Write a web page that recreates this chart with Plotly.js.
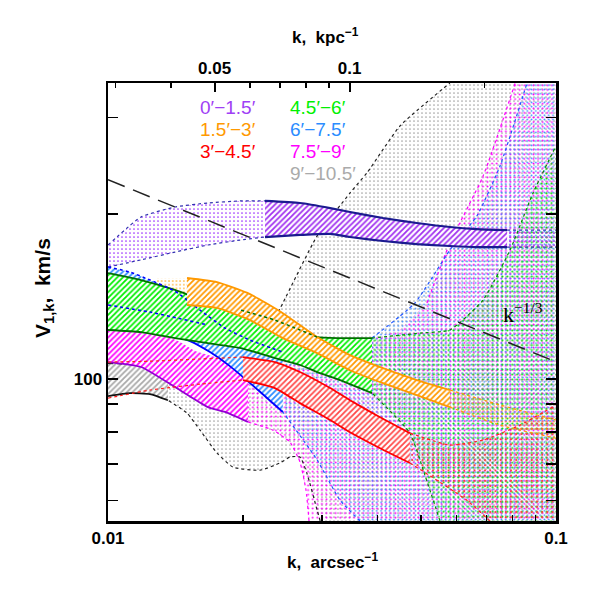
<!DOCTYPE html>
<html><head><meta charset="utf-8">
<script src="https://cdn.plot.ly/plotly-3.0.1.min.js"></script>
<style>html,body{margin:0;padding:0;background:#fff}</style>
</head><body>
<div id="chart" style="width:598px;height:596px"></div>
<script>
// ---------------- data (k in arcsec^-1, V in km/s) ----------------
// 0'-1.5' (purple)
const kPurpleL = [0.01, 0.01185, 0.01411, 0.01671, 0.01971, 0.02241];
const vPurpleLUp = [175.6, 197.5, 206.0, 209.5, 211.3, 211.3];
const vPurpleLLo = [160.1, 165.0, 170.5, 175.6, 179.3, 181.6];
const kPurpleH = [0.02241, 0.02682, 0.03132, 0.03469, 0.04110, 0.04889, 0.05796, 0.06658, 0.07776];
const vPurpleHUp = [211.3, 209.5, 205.1, 201.7, 196.7, 192.6, 189.4, 187.8, 187.0];
const vPurpleHLo = [181.6, 183.2, 184.0, 181.6, 178.6, 176.3, 174.9, 174.1, 174.1];
const kPurpleR = [0.07776, 0.1];
const vPurpleRUp = [187.0, 187.0];
const vPurpleRLo = [174.1, 174.1];

// 1.5'-3' (orange)
const kOrangeL = [0.01287, 0.01501];
const vOrangeLUp = [152.9, 152.9];
const vOrangeLLo = [139.4, 136.5];
const kOrangeH = [0.01501, 0.01751, 0.02075, 0.02456, 0.02929, 0.03469, 0.04110, 0.04889, 0.05796];
const vOrangeHUp = [152.9, 150.3, 142.9, 131.9, 119.3, 110.6, 104.7, 99.6, 95.5];
const vOrangeHLo = [136.5, 134.8, 128.1, 118.8, 111.5, 103.8, 98.3, 93.5, 88.9];
const kOrangeR = [0.05796, 0.07499, 0.1];
const vOrangeRUp = [95.5, 89.7, 84.2];
const vOrangeRLo = [88.9, 82.4, 78.0];

// 3'-4.5' (red)
const kRedL = [0.01, 0.01241, 0.01605, 0.02001];
const vRedLUp = [107.4, 107.8, 108.8, 109.7];
const vRedLLo = [92.3, 95.5, 97.9, 99.6];
const kRedH = [0.02001, 0.02358, 0.02682, 0.03132, 0.03469, 0.04049, 0.04719];
const vRedHUp = [109.7, 107.4, 103.0, 96.3, 91.5, 85.2, 79.7];
const vRedHLo = [99.6, 96.3, 90.4, 84.2, 80.0, 74.8, 70.3];
const kRedRPoly = [0.04719, 0.05796, 0.06874, 0.08311, 0.1, 0.1, 0.07116, 0.06329, 0.04719];
const vRedRPoly = [79.7, 75.8, 77.4, 82.4, 89.7, 55.1, 55.1, 60.1, 70.3];

// 4.5'-6' (green)
const kGreenH = [0.01, 0.01185, 0.01411, 0.01671, 0.01981, 0.02358, 0.02682, 0.02929, 0.03296, 0.03884];
const vGreenHUp = [156.1, 151.6, 145.4, 138.2, 133.6, 128.1, 122.9, 119.3, 118.8, 118.8];
const vGreenHLo = [122.9, 121.8, 118.8, 116.3, 113.9, 109.2, 106.1, 103.0, 99.6, 94.3];
const kGreenRPoly = [0.03884, 0.04971, 0.05796, 0.06874, 0.07897, 0.08887, 0.1, 0.1, 0.05509, 0.05098, 0.04719, 0.03884];
const vGreenRPoly = [118.8, 121.3, 122.9, 139.4, 172.0, 218.5, 266.2, 55.1, 55.1, 66.8, 79.7, 94.3];

// 6'-7.5' (blue)
const kBlueHUp = [0.01, 0.01119, 0.01241, 0.01411, 0.01605, 0.01824, 0.02075, 0.02456];
const vBlueHUp = [160.1, 156.8, 151.6, 144.7, 133.6, 123.9, 117.8, 112.0];
const kBlueHLo = [0.01, 0.01185, 0.01375, 0.01524, 0.01689, 0.01871, 0.02162, 0.02456];
const vBlueHLo = [124.9, 123.4, 120.3, 117.3, 112.0, 105.6, 95.5, 87.1];
const kBlueInner = [0.01, 0.01241, 0.01671];
const vBlueInner = [136.5, 132.5, 125.5];
const kBlueRPoly = [0.02456, 0.03132, 0.03884, 0.04839, 0.05796, 0.06658, 0.07499, 0.08616, 0.1, 0.1, 0.0365, 0.03296, 0.02929, 0.02456];
const vBlueRPoly = [112.0, 115.3, 118.8, 137.6, 172.0, 198.4, 244.8, 346.8, 346.8, 55.1, 55.1, 60.1, 71.2, 87.1];

// 7.5'-9' (magenta)
const kMagHUp = [0.01, 0.01185, 0.01340, 0.01448, 0.01563, 0.01824, 0.02053];
const vMagHUp = [122.9, 122.4, 120.3, 116.8, 112.5, 108.3, 107.4];
const kMagHLo = [0.01, 0.01185, 0.01411, 0.01671, 0.01824, 0.02053];
const vMagHLo = [107.4, 105.2, 96.7, 88.9, 87.1, 83.5];
const kMagRPoly = [0.02053, 0.02682, 0.03469, 0.04485, 0.0515, 0.05796, 0.06874, 0.0811, 0.1, 0.1, 0.02810, 0.02767, 0.02682, 0.02549, 0.02334, 0.02053];
const vMagRPoly = [107.4, 112.0, 115.3, 122.9, 137.6, 177.1, 234.6, 346.8, 346.8, 55.1, 55.1, 62.7, 70.6, 76.7, 80.7, 83.5];

// 9'-10.5' (gray)
const kGrayH = [0.01, 0.01119, 0.01241, 0.01361];
const vGrayHUp = [106.9, 106.5, 106.1, 105.2];
const vGrayHLo = [93.1, 94.3, 93.9, 91.5];
const kGrayRPoly = [0.01361, 0.01605, 0.01871, 0.02129, 0.02298, 0.02456, 0.02929, 0.03469, 0.03784, 0.04485, 0.05796, 0.1, 0.1,
                    0.02976, 0.02929, 0.02780, 0.02682, 0.02549, 0.02420, 0.02184, 0.01901, 0.01751, 0.01605, 0.01501, 0.01361];
const vGrayRPoly = [105.2, 101.7, 103.8, 112.9, 123.9, 137.6, 182.4, 218.5, 237.7, 289.5, 346.8, 346.8, 55.1,
                    55.1, 57.7, 67.3, 72.1, 72.1, 70.3, 68.2, 69.1, 73.3, 80.7, 86.7, 91.5];

// k^-1/3 reference line
const kSlope = [0.01, 0.1];
const vSlope = [231, 107.5];

// labels
const legendLabels = ["0′−1.5′", "1.5′−3′", "3′−4.5′", "4.5′−6′", "6′−7.5′", "7.5′−9′", "9′−10.5′"];
const legendColors = ["#a040f5", "#ff9900", "#ff0000", "#00f000", "#2b8cff", "#ff00ff", "#aaaaaa"];
const xTickVals = [0.01, 0.1];
const xMinorVals = [0.02, 0.03, 0.04, 0.05, 0.06, 0.07, 0.08, 0.09];
const yTickVals = [100];
const yMinorVals = [60, 70, 80, 90, 200, 300];
const topTickVals = [0.05, 0.1];
const topMinorVals = [0.03, 0.04, 0.06, 0.07, 0.08, 0.09, 0.2];
const kpcPerArcsec = 2.89;

// ---------------- helpers ----------------
function band(kUp, vUp, kLo, vLo) {
  return {x: kUp.concat(kLo.slice().reverse()), y: vUp.concat(vLo.slice().reverse())};
}
function dotFill(p, color, size) {
  return {type: 'scatter', x: p.x, y: p.y, mode: 'lines', fill: 'toself',
    line: {width: 0, color: color}, fillcolor: 'rgba(0,0,0,0)',
    fillpattern: {shape: '.', fgcolor: color, bgcolor: 'rgba(0,0,0,0)', size: size, solidity: 0.14},
    hoverinfo: 'skip', showlegend: false};
}
function hatchFill(p, color) {
  return {type: 'scatter', x: p.x, y: p.y, mode: 'lines', fill: 'toself',
    line: {width: 0, color: color}, fillcolor: 'rgba(0,0,0,0)',
    fillpattern: {shape: '/', fgcolor: color, bgcolor: 'white', size: 4, solidity: 0.45},
    hoverinfo: 'skip', showlegend: false};
}
function ln(x, y, color, width, dash) {
  return {type: 'scatter', x: x, y: y, mode: 'lines',
    line: {color: color, width: width, dash: dash || 'solid', shape: 'spline', smoothing: 0.5},
    hoverinfo: 'skip', showlegend: false};
}

const traces = [];
// dotted extensions (different pattern periods so the dots of overlapping regions interleave)
traces.push(dotFill({x: kGrayRPoly, y: vGrayRPoly}, '#a4a4a4', 4.0));
traces.push(dotFill({x: kMagRPoly, y: vMagRPoly}, '#ff00ff', 4.6));
traces.push(dotFill({x: kBlueRPoly, y: vBlueRPoly}, '#3a8cff', 4.3));
traces.push(dotFill({x: kGreenRPoly, y: vGreenRPoly}, '#00e000', 4.9));
traces.push(dotFill({x: kRedRPoly, y: vRedRPoly}, '#ff4040', 5.2));
traces.push(dotFill(band(kRedL, vRedLUp, kRedL, vRedLLo), '#ff4040', 5.2));
traces.push(dotFill(band(kOrangeR, vOrangeRUp, kOrangeR, vOrangeRLo), '#ffa000', 3.7));
traces.push(dotFill(band(kOrangeL, vOrangeLUp, kOrangeL, vOrangeLLo), '#ffa000', 3.7));
traces.push(dotFill(band(kPurpleL, vPurpleLUp, kPurpleL, vPurpleLLo), '#9b30ff', 4.0));
traces.push(dotFill(band(kPurpleR, vPurpleRUp, kPurpleR, vPurpleRLo), '#9b30ff', 4.0));

// dotted outlines of extensions
traces.push(ln(kGrayRPoly.slice(4, 11), vGrayRPoly.slice(4, 11), '#222', 1.2, 'dot'));
traces.push(ln(kGrayRPoly.slice(13), vGrayRPoly.slice(13), '#222', 1.2, 'dot'));
traces.push(ln(kMagRPoly.slice(4, 8), vMagRPoly.slice(4, 8), '#ff00ff', 1.2, 'dot'));
traces.push(ln(kMagRPoly.slice(10), vMagRPoly.slice(10), '#ff00ff', 1.2, 'dot'));
traces.push(ln(kBlueRPoly.slice(2, 8), vBlueRPoly.slice(2, 8), '#2255ff', 1.2, 'dot'));
traces.push(ln(kBlueRPoly.slice(10), vBlueRPoly.slice(10), '#2255ff', 1.2, 'dot'));
traces.push(ln(kGreenRPoly.slice(0, 7), vGreenRPoly.slice(0, 7), '#009000', 1.2, 'dot'));
traces.push(ln(kGreenRPoly.slice(8), vGreenRPoly.slice(8), '#009000', 1.2, 'dot'));
traces.push(ln(kRedRPoly.slice(0, 5), vRedRPoly.slice(0, 5), '#ff2020', 1.2, 'dot'));
traces.push(ln(kRedRPoly.slice(6), vRedRPoly.slice(6), '#ff2020', 1.2, 'dot'));
traces.push(ln(kOrangeR, vOrangeRUp, '#ff9900', 1.2, 'dot'));
traces.push(ln(kOrangeR, vOrangeRLo, '#ff9900', 1.2, 'dot'));
traces.push(ln(kPurpleL, vPurpleLUp, '#3030b0', 1.2, 'dot'));
traces.push(ln(kPurpleL, vPurpleLLo, '#3030b0', 1.2, 'dot'));
traces.push(ln(kPurpleR, vPurpleRUp, '#3030b0', 1.2, 'dot'));
traces.push(ln(kPurpleR, vPurpleRLo, '#3030b0', 1.2, 'dot'));

// hatched measured ranges
traces.push(hatchFill(band(kGrayH, vGrayHUp, kGrayH, vGrayHLo), '#a8a8a8'));
traces.push(ln(kGrayH, vGrayHUp, '#222', 1.5, '5px,4px'));
traces.push(ln(kGrayH, vGrayHLo, '#111', 1.8));
traces.push(hatchFill(band(kMagHUp, vMagHUp, kMagHLo, vMagHLo), '#ff00ff'));
traces.push(ln(kMagHLo, vMagHLo, '#9400d3', 1.8));
traces.push(hatchFill(band(kBlueHUp, vBlueHUp, kBlueHLo, vBlueHLo), '#2b8cff'));
traces.push(ln(kBlueHLo, vBlueHLo, '#0000ff', 1.8));
traces.push(hatchFill(band(kGreenH, vGreenHUp, kGreenH, vGreenHLo), '#00ee00'));
traces.push(ln(kGreenH, vGreenHUp, '#007000', 1.8));
traces.push(ln(kGreenH, vGreenHLo, '#007000', 1.8));
traces.push(ln(kBlueHUp, vBlueHUp, '#0000ff', 1.5, 'dot'));
traces.push(ln(kBlueInner, vBlueInner, '#0000ff', 1.5, 'dot'));
traces.push(ln(kRedL, vRedLUp, '#ff2020', 1.2, 'dot'));
traces.push(ln(kRedL, vRedLLo, '#ff2020', 1.2, 'dot'));
traces.push(hatchFill(band(kRedH, vRedHUp, kRedH, vRedHLo), '#ff4848'));
traces.push(ln(kRedH, vRedHUp, '#ff0000', 1.8));
traces.push(ln(kRedH, vRedHLo, '#ff0000', 1.8));
traces.push(hatchFill(band(kOrangeH, vOrangeHUp, kOrangeH, vOrangeHLo), '#ff9900'));
traces.push(ln(kOrangeH, vOrangeHUp, '#ff9900', 1.8));
traces.push(ln(kOrangeH, vOrangeHLo, '#ff9900', 1.8));
traces.push(ln(kGreenH.slice(4, 8), vGreenHUp.slice(4, 8), '#007000', 1.5, 'dot'));
traces.push(hatchFill(band(kPurpleH, vPurpleHUp, kPurpleH, vPurpleHLo), '#a030f0'));
traces.push(ln(kPurpleH, vPurpleHUp, '#1b1b8f', 2.2));
traces.push(ln(kPurpleH, vPurpleHLo, '#1b1b8f', 2.2));

// k^-1/3 line
traces.push({type: 'scatter', x: kSlope, y: vSlope, mode: 'lines',
  line: {color: '#222', width: 1.5, dash: '18px,9px'}, hoverinfo: 'skip', showlegend: false});
// invisible trace for the top (kpc) axis
traces.push({type: 'scatter', x: topTickVals, y: [100, 100], xaxis: 'x2', mode: 'markers',
  marker: {opacity: 0}, hoverinfo: 'skip', showlegend: false});

const tickFont = {family: 'Liberation Sans, Arial, sans-serif', size: 17, color: '#000', weight: 'bold'};
const annotations = [];
const colX = [198, 288];
const rowY = [107, 129, 151, 173];
legendLabels.forEach((t, i) => {
  const col = i < 3 ? 0 : 1;
  const row = i < 3 ? i : i - 3;
  annotations.push({text: t, xref: 'paper', yref: 'paper', x: (colX[col] - 108) / 448, y: (521 - rowY[row]) / 438,
    xanchor: 'left', yanchor: 'middle', showarrow: false,
    font: {family: 'Liberation Sans, Arial, sans-serif', size: 19, color: legendColors[i]}});
});
annotations.push({text: 'k<sup>−1/3</sup>', xref: 'paper', yref: 'paper', x: (501 - 108) / 448, y: (521 - 313) / 438,
  xanchor: 'left', yanchor: 'middle', showarrow: false,
  font: {family: 'Liberation Serif, Times New Roman, serif', size: 22, color: '#000'}});
annotations.push({text: 'k,  arcsec<sup>−1</sup>', xref: 'paper', yref: 'paper', x: (332 - 108) / 448, y: (521 - 561) / 438,
  xanchor: 'center', yanchor: 'middle', showarrow: false, font: tickFont});
annotations.push({text: 'k,  kpc<sup>−1</sup>', xref: 'paper', yref: 'paper', x: (325 - 108) / 448, y: (521 - 36) / 438,
  xanchor: 'center', yanchor: 'middle', showarrow: false, font: tickFont});
annotations.push({text: 'V<sub>1,k</sub>,  km/s', xref: 'paper', yref: 'paper', x: (44 - 108) / 448, y: (521 - 288) / 438,
  xanchor: 'center', yanchor: 'middle', textangle: -90, showarrow: false,
  font: {family: 'Liberation Sans, Arial, sans-serif', size: 21, color: '#000', weight: 'bold'}});

const layout = {
  width: 598, height: 596,
  margin: {l: 108, r: 42, t: 83, b: 75},
  paper_bgcolor: '#fff', plot_bgcolor: '#fff',
  showlegend: false,
  xaxis: {type: 'log', range: [-2, -1], tickmode: 'array', tickvals: xTickVals, ticktext: ['0.01', '0.1'],
    ticks: 'inside', ticklen: 10, tickwidth: 2, tickcolor: '#000',
    minor: {tickmode: 'array', tickvals: xMinorVals, ticks: 'inside', ticklen: 6, tickwidth: 1.5, tickcolor: '#000', showgrid: false},
    showline: true, linewidth: 2.5, linecolor: '#000', showgrid: false, zeroline: false,
    tickfont: tickFont, anchor: 'y'},
  xaxis2: {type: 'log', overlaying: 'x', side: 'top', anchor: 'y',
    range: [Math.log10(0.01 * kpcPerArcsec), Math.log10(0.1 * kpcPerArcsec)],
    tickmode: 'array', tickvals: topTickVals, ticktext: ['0.05', '0.1'],
    ticks: 'inside', ticklen: 9, tickwidth: 2, tickcolor: '#000',
    minor: {tickmode: 'array', tickvals: topMinorVals, ticks: 'inside', ticklen: 5, tickwidth: 1.5, tickcolor: '#000', showgrid: false},
    showline: true, linewidth: 2.5, linecolor: '#000', showgrid: false, zeroline: false, tickfont: tickFont},
  yaxis: {type: 'log', range: [Math.log10(55.1), Math.log10(346.8)], tickmode: 'array', tickvals: yTickVals, ticktext: ['100'],
    ticks: 'inside', ticklen: 10, tickwidth: 2, tickcolor: '#000', mirror: 'allticks',
    minor: {tickmode: 'array', tickvals: yMinorVals, ticks: 'inside', ticklen: 6, tickwidth: 1.5, tickcolor: '#000', showgrid: false},
    showline: true, linewidth: 2.5, linecolor: '#000', showgrid: false, zeroline: false, tickfont: tickFont},
  annotations: annotations
};

Plotly.newPlot('chart', traces, layout, {displayModeBar: false, staticPlot: true});
</script></body></html>
